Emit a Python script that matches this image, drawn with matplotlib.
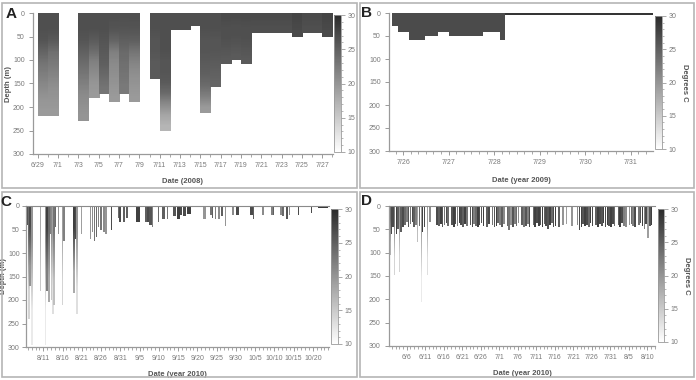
import numpy as np
import pandas as pd
import matplotlib
matplotlib.use('Agg')
import matplotlib.pyplot as plt
import matplotlib.dates as mdates
from matplotlib.colors import LinearSegmentedColormap, Normalize
from matplotlib.ticker import FixedLocator, MultipleLocator, FuncFormatter
from matplotlib.patches import Rectangle
from matplotlib.cm import ScalarMappable

plt.rcParams['font.family'] = ['Liberation Sans Narrow', 'Liberation Sans', 'DejaVu Sans']

# ---------------- data ----------------
# Panel A (2008): one profile per day, temps listed top -> bottom of each profile
a_base = '2008-06-29'
a_day = [0, 1, 4, 5, 6, 7, 8, 9, 11, 12, 13, 14, 15, 16, 17, 18, 19, 20, 21, 22, 23, 24, 25, 26, 27, 28]
a_depth = [220, 220, 229, 180, 173, 189, 173, 189, 141, 252, 36, 36, 28, 213, 157, 108, 101, 108,
           43, 43, 43, 43, 52, 43, 43, 52]
a_temps = [
    [26.5, 26.5, 26, 24.5, 23, 22, 21, 20, 19.5],
    [26.5, 26.5, 25.5, 23.5, 22.5, 21.5, 20.5, 20, 19.5],
    [26.5, 26.5, 26, 25, 24, 23, 22, 21, 20.5, 20],
    [26.5, 26.5, 25.5, 24, 22, 21, 20, 19.5],
    [26.5, 26.5, 26, 25.5, 25, 24, 23],
    [26.5, 26, 24.5, 22, 21, 20.5, 20, 19.5],
    [26.5, 26, 25, 24, 23.5, 23, 22.5],
    [26.5, 26, 25, 23, 21.5, 20.5, 20, 19.5],
    [26.5, 26.5, 26, 26, 25.5, 25.5],
    [26.5, 26.5, 26.5, 26.5, 26, 26, 25.5, 24, 21, 18.5, 17],
    [26.5, 26.5], [26.5, 26.5], [26.5, 26.5],
    [26.5, 26.5, 26, 26, 25.5, 25, 24, 22, 19.5],
    [26.5, 26.5, 26, 26, 25.5, 25, 24.5],
    [27, 26.5, 26.5, 26, 25.5],
    [27, 26.5, 26.5, 26, 25.5],
    [27, 26.5, 26.5, 26, 25.5],
    [27, 26.5], [27, 26.5], [27, 26.5], [27, 26.5],
    [27.5, 27], [27, 26.5], [27, 26.5], [27.5, 27],
]
a_tick_labels = ['6/29', '7/1', '7/3', '7/5', '7/7', '7/9', '7/11', '7/13', '7/15', '7/17',
                 '7/19', '7/21', '7/23', '7/25', '7/27']

# Panel B (2009): step edges (days from 7/26), depth and temperature of each step
b_base = '2009-07-26'
b_edges = [-0.25, -0.12, 0.125, 0.49, 0.76, 1.0, 1.75, 2.13, 2.24, 5.48]
b_depth = [28, 42, 58, 50, 42, 50, 42, 58, 4]
b_temp = [27, 27, 27, 27, 27, 27, 27, 27, 29]
b_tick_labels = ['7/26', '7/27', '7/28', '7/29', '7/30', '7/31']

# Panel C (2010): shallow casts (uniform) and deep casts (top/bottom temps); days from 8/11
c_base = '2010-08-11'
c_start = [-4.5, 1.55, 3.0, 3.8, 5.2, 8.1, 9.9, 12.1, 12.6, 13.1,
           13.6, 14.1, 14.7, 15.5, 16.1, 17.5, 19.3, 19.7, 20.7, 21.6,
           24.0, 26.4, 26.8, 27.5, 28.2, 29.7, 30.9, 32.1, 33.7, 34.6,
           35.4, 36.3, 37.3, 41.5, 43.2, 43.7, 44.5, 45.4, 46.2, 47.3,
           49.1, 50.0, 53.8, 54.4, 56.9, 59.2, 59.6, 61.4, 62.1, 63.0,
           63.8, 66.1, 69.4, 71.3]
c_width = [0.5, 0.35, 0.3, 0.2, 0.5, 0.35, 0.2, 0.3, 0.3, 0.35,
           0.4, 0.4, 0.5, 0.4, 0.35, 0.35, 0.4, 0.4, 0.5, 0.35,
           1.0, 0.4, 0.7, 0.6, 0.3, 0.35, 0.6, 0.35, 0.8, 0.8,
           0.6, 0.8, 1.0, 0.8, 0.5, 0.5, 0.4, 0.4, 0.35, 0.25,
           0.35, 0.8, 0.6, 0.4, 0.35, 0.4, 0.4, 0.5, 0.5, 0.6,
           0.35, 0.4, 0.35, 2.6]
c_depth = [40, 60, 45, 60, 75, 70, 60, 70, 55, 75,
           65, 45, 50, 55, 60, 52, 25, 35, 35, 25,
           35, 35, 35, 40, 45, 35, 28, 28, 22, 28,
           20, 22, 18, 28, 20, 25, 28, 28, 22, 42,
           20, 20, 20, 28, 20, 20, 20, 20, 22, 28,
           20, 20, 15, 5]
c_temp = [27, 22, 24, 20, 22, 27, 19, 20, 21, 23,
          24, 22, 23, 21, 20, 27, 24, 27, 25, 25,
          28, 25, 27, 26, 22, 24, 25, 23, 26, 28,
          27, 27, 28, 20, 23, 25, 22, 21, 25, 20,
          21, 27, 27, 25, 21, 22, 25, 21, 24, 26,
          21, 27, 27, 29]
c_deep_start = [-4.0, -3.6, -3.3, -0.86, 0.5, 0.8, 1.2, 1.9, 2.25, 2.6, 4.95, 7.8, 8.4]
c_deep_width = [0.5, 0.5, 0.3, 0.2, 0.25, 0.45, 0.4, 0.35, 0.3, 0.35, 0.25, 0.4, 0.3]
c_deep_depth = [240, 170, 296, 180, 296, 180, 205, 200, 230, 210, 210, 185, 230]
c_deep_ttop = [24, 27, 20, 18, 20, 28, 24, 21, 19, 23, 19, 28, 20]
c_deep_tbot = [14, 20, 12, 15, 12, 22, 18, 15, 13, 16, 14, 18, 13]
c_tick_labels = ['8/11', '8/16', '8/21', '8/26', '8/31', '9/5', '9/10', '9/15', '9/20', '9/25',
                 '9/30', '10/5', '10/10', '10/15', '10/20']

# Panel D (2010): days from 6/6
d_base = '2010-06-06'
d_early_start = [-4.45, -3.9, -3.0, -2.6, -1.7, -1.2, -0.7, -0.2, 0.3, 0.8, 1.3, 1.8, 2.3, 3.2, 4.1, 4.6, 6.0]
d_early_depth = [60, 45, 60, 50, 55, 45, 40, 35, 45, 38, 35, 45, 40, 42, 55, 45, 35]
d_early_temp = [27, 27, 28, 25, 25, 27, 24, 22, 26, 23, 27, 25, 22, 24, 28, 27, 21]
d_start = [8.0, 8.5, 9.0, 9.5, 10.0, 10.5, 11.0, 12.0, 12.5, 13.0,
           13.5, 14.0, 14.5, 15.0, 15.5, 16.0, 17.0, 17.5, 18.0, 18.5,
           19.0, 19.5, 20.0, 20.5, 21.5, 22.0, 23.0, 23.5, 24.0, 24.5,
           25.0, 25.5, 26.0, 27.0, 27.5, 28.0, 28.5, 29.0, 29.5, 30.0,
           31.0, 31.5, 32.0, 32.5, 33.0, 34.0, 34.5, 35.0, 35.5, 36.0,
           36.5, 37.0, 37.5, 38.0, 38.5, 39.0, 39.5, 40.0, 41.0, 42.0,
           43.0, 44.5, 46.0, 46.5, 47.0, 47.5, 48.0, 48.5, 49.0, 49.5,
           50.0, 51.0, 51.5, 52.0, 52.5, 53.0, 53.5, 54.0, 54.5, 55.0,
           55.5, 56.0, 57.0, 57.5, 58.0, 58.5, 59.0, 60.0, 60.5, 61.0,
           61.5, 62.5, 63.0, 63.5, 64.0, 64.5, 65.0, 65.5, 66.0, 67.0]
d_depth = [40, 42, 38, 45, 40, 36, 42, 40, 45, 38,
           42, 36, 40, 45, 38, 42, 40, 44, 38, 42,
           45, 40, 36, 42, 45, 38, 40, 44, 42, 36,
           40, 45, 38, 42, 52, 40, 44, 38, 42, 36,
           40, 45, 42, 38, 44, 40, 45, 36, 42, 40,
           45, 38, 42, 50, 40, 36, 44, 42, 45, 40,
           38, 42, 40, 52, 45, 38, 42, 40, 44, 36,
           42, 40, 45, 38, 42, 36, 44, 40, 42, 45,
           38, 42, 40, 44, 36, 42, 45, 40, 38, 42,
           44, 40, 36, 42, 50, 38, 68, 42, 40, 45]
d_temp = [27, 25, 28, 26, 23, 27, 24, 26, 28, 27,
          22, 28, 27, 25, 28, 23, 26, 27, 22, 24,
          28, 27, 26, 28, 25, 27, 23, 26, 28, 24,
          22, 25, 21, 24, 23, 20, 26, 22, 24, 21,
          25, 23, 26, 22, 27, 24, 28, 27, 28, 26,
          28, 25, 27, 26, 28, 24, 27, 28, 25, 20,
          19, 20, 21, 27, 28, 26, 28, 27, 24, 28,
          27, 25, 28, 27, 26, 28, 27, 28, 26, 28,
          27, 24, 25, 28, 27, 22, 21, 20, 24, 22,
          27, 23, 26, 28, 22, 27, 19, 26, 28, 25]
d_deep_start = [-4.8, -3.4, -2.1, 2.7, 3.8, 5.6]
d_deep_width = [0.35, 0.25, 0.25, 0.2, 0.2, 0.2]
d_deep_depth = [105, 148, 141, 77, 205, 148]
d_deep_ttop = [24, 22, 20, 19, 19, 19]
d_deep_tbot = [17, 14, 14, 16, 12, 13]
d_tick_labels = ['6/6', '6/11', '6/16', '6/21', '6/26', '7/1', '7/6', '7/11', '7/16', '7/21',
                 '7/26', '7/31', '8/5', '8/10']

# ---------------- figure ----------------
W, H = 696, 380
fig = plt.figure(figsize=(W / 100, H / 100), dpi=100)

def rect(l, t, r, b):
    return [l / W, 1 - b / H, (r - l) / W, (b - t) / H]

cmap = LinearSegmentedColormap.from_list('tg', ['#ffffff', '#2b2b2b'])
norm = Normalize(10, 30)
TICKC = '#9a9a9a'
LABC = '#7a7a7a'

def dnum(s):
    return mdates.date2num(pd.Timestamp(s))

def grad(ax, x0, x1, depth, temps):
    ax.imshow(np.array(temps, float)[:, None], extent=(x0, x1, depth, 0), cmap=cmap, norm=norm,
              aspect='auto', interpolation='bilinear', origin='upper', zorder=2)

def style(ax, year, labels, xlim, minor, xlabel, ylabel_x, xlabelpad, top_line=False, ypad=3):
    ax.set_ylim(300, 0)
    ax.set_yticks(np.arange(0, 301, 50))
    ax.set_xlim(xlim)
    pos = [dnum(f'{year}/{l}') for l in labels]
    ax.xaxis.set_major_locator(FixedLocator(pos))
    ax.xaxis.set_major_formatter(FuncFormatter(lambda v, p: labels[int(np.argmin(np.abs(np.array(pos) - v)))]))
    ax.xaxis.set_minor_locator(MultipleLocator(minor))
    ax.spines['right'].set_visible(False)
    if top_line:
        ax.spines['top'].set_color('#8a8a8a')
        ax.spines['top'].set_linewidth(0.8)
    else:
        ax.spines['top'].set_visible(False)
    for s in ['left', 'bottom']:
        ax.spines[s].set_color('#9a9a9a')
        ax.spines[s].set_linewidth(0.9)
    ax.tick_params(which='major', labelsize=5, color=TICKC, labelcolor=LABC, length=3, width=0.7, pad=3)
    ax.tick_params(axis='y', which='major', pad=ypad)
    ax.tick_params(which='minor', color=TICKC, length=1.8, width=0.6)
    ax.set_xlabel(xlabel, fontsize=5.5, fontweight='bold', color='#555555', labelpad=xlabelpad)
    if ylabel_x is not None:
        ax.set_ylabel('Depth (m)', fontsize=5.5, fontweight='bold', color='#555555')
        ax.yaxis.set_label_coords(ylabel_x, 0.5)
    ax.set_facecolor('white')

def cbar(cax, label=None):
    cb = fig.colorbar(ScalarMappable(norm=norm, cmap=cmap), cax=cax, ticks=[10, 15, 20, 25, 30])
    cb.outline.set_edgecolor('#9a9a9a')
    cb.outline.set_linewidth(0.6)
    cax.yaxis.set_minor_locator(MultipleLocator(1))
    cax.tick_params(which='major', labelsize=5, color=TICKC, labelcolor=LABC, length=3, width=0.6, pad=2)
    cax.tick_params(which='minor', color=TICKC, length=1.5, width=0.5)
    if label:
        cax.set_ylabel(label, rotation=270, fontsize=5.5, fontweight='bold', color='#555555', labelpad=8)

# ---- A ----
axA = fig.add_axes(rect(33, 13, 333, 154))
b0 = dnum(a_base)
for d, dep, ts in zip(a_day, a_depth, a_temps):
    grad(axA, b0 + d, b0 + d + 1, dep, ts)
style(axA, 2008, a_tick_labels, (b0 - 0.46, b0 + 29.05), 1, 'Date (2008)', -0.07, 6)
cbar(fig.add_axes(rect(334, 15, 341, 152)))

# ---- B ----
axB = fig.add_axes(rect(389, 13, 653, 151))
b0 = dnum(b_base)
edges = np.array(b_edges)
axB.bar(b0 + edges[:-1], b_depth, width=np.diff(edges), bottom=0, align='edge',
        color=[cmap(norm(t)) for t in b_temp], linewidth=0, zorder=2)
style(axB, 2009, b_tick_labels, (b0 - 0.31, b0 + 5.49), 1 / 6, 'Date (year 2009)', None, 8)
cbar(fig.add_axes(rect(655, 16, 662, 149)), 'Degrees C')

# ---- C ----
axC = fig.add_axes(rect(26, 206, 329, 347))
b0 = dnum(c_base)
axC.bar(b0 + np.array(c_start), c_depth, width=c_width, bottom=0, align='edge',
        color=[cmap(norm(t)) for t in c_temp], linewidth=0, zorder=2)
for s, w, dep, t1, t2 in zip(c_deep_start, c_deep_width, c_deep_depth, c_deep_ttop, c_deep_tbot):
    grad(axC, b0 + s, b0 + s + w, dep, [t1, t2])
style(axC, 2010, c_tick_labels, (b0 - 4.5, b0 + 74.2), 1, 'Date (year 2010)', -0.062, 6,
      top_line=True, ypad=1.5)
cbar(fig.add_axes(rect(331, 209, 338, 344)))

# ---- D ----
axD = fig.add_axes(rect(389, 206, 655, 346))
b0 = dnum(d_base)
all_start = np.array(d_early_start + d_start)
axD.bar(b0 + all_start, d_early_depth + d_depth, width=0.42, bottom=0, align='edge',
        color=[cmap(norm(t)) for t in d_early_temp + d_temp], linewidth=0, zorder=2)
for s, w, dep, t1, t2 in zip(d_deep_start, d_deep_width, d_deep_depth, d_deep_ttop, d_deep_tbot):
    grad(axD, b0 + s, b0 + s + w, dep, [t1, t2])
style(axD, 2010, d_tick_labels, (b0 - 4.8, b0 + 67.1), 1, 'Date (year 2010)', None, 6, top_line=True)
cbar(fig.add_axes(rect(658, 209, 664, 342)), 'Degrees C')

# ---- panel frames and letters ----
for (l, t, r, b) in [(2, 3, 357, 188), (360, 3, 694, 188), (2, 192, 357, 377), (360, 192, 694, 377)]:
    fig.add_artist(Rectangle((l / W, 1 - b / H), (r - l) / W, (b - t) / H, transform=fig.transFigure,
                             fill=False, ec='#b5b5b5', lw=1.2))
for letter, x, y in [('A', 11, 14), ('B', 367, 13), ('C', 6, 202), ('D', 367, 201)]:
    fig.text(x / W, 1 - y / H, letter, fontsize=11, fontweight='bold', color='#222222',
             ha='center', va='center', family=['Liberation Sans', 'DejaVu Sans'])

fig.savefig('out.png', dpi=100)
